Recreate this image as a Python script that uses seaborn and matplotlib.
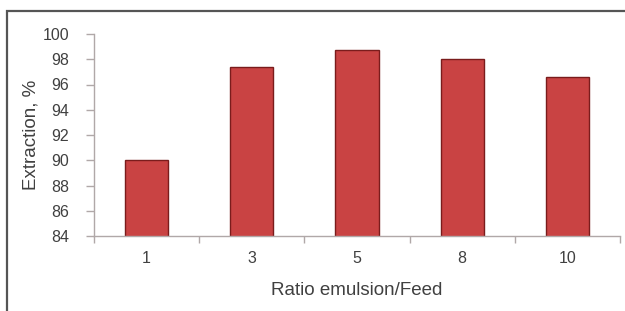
import matplotlib
matplotlib.use("Agg")
import matplotlib.pyplot as plt
import seaborn as sns
import pandas as pd
from matplotlib.patches import Rectangle

categories = ["1", "3", "5", "8", "10"]
extraction = [90.0, 97.4, 98.7, 98.0, 96.6]
yticks = [84, 86, 88, 90, 92, 94, 96, 98, 100]

df = pd.DataFrame({"ratio": categories, "extraction": extraction})

sns.set_style("white")
plt.rcParams['font.family'] = ['Liberation Sans', 'DejaVu Sans']

fig = plt.figure(figsize=(6.25, 3.11), dpi=100)
ax = fig.add_axes([94/625, 1 - 236/311, (620-94)/625, (236-34)/311])

sns.barplot(data=df, x="ratio", y="extraction", order=categories, ax=ax,
            color="#c94343", width=0.41, edgecolor="#7a1c1c", linewidth=1.0,
            saturation=1)

ax.set_ylim(84, 100)
ax.set_xlim(-0.5, 4.5)
ax.set_yticks(yticks)
ax.set_yticklabels([str(v) for v in yticks])
ax.set_xticks(range(len(categories)))
ax.set_xticklabels(categories)
ax.set_xticks([i - 0.5 for i in range(len(categories) + 1)], minor=True)

for s in ["top", "right"]:
    ax.spines[s].set_visible(False)
for s in ["left", "bottom"]:
    ax.spines[s].set_color("#b0a8a8")
    ax.spines[s].set_linewidth(1.0)

ax.tick_params(axis="y", which="major", left=True, length=6, width=1.0, color="#b0a8a8",
               labelsize=11.5, labelcolor="#404040", pad=12)
ax.tick_params(axis="x", which="major", bottom=False, length=0, labelsize=11.5,
               labelcolor="#404040", pad=11)
ax.tick_params(axis="x", which="minor", bottom=True, length=5, width=1.0, color="#b0a8a8")

ax.set_xlabel("Ratio emulsion/Feed", fontsize=13.5, color="#404040", labelpad=11)
ax.set_ylabel("Extraction, %", fontsize=13.5, color="#404040", labelpad=2)

# figure border (left and top visible, continues past right/bottom edges)
fig.patches.append(Rectangle((7/625, -0.1), 1.2, (1 - 11/311) + 0.1,
                             transform=fig.transFigure, fill=False,
                             edgecolor="#555555", linewidth=1.6))

fig.savefig("out.png", dpi=100)
